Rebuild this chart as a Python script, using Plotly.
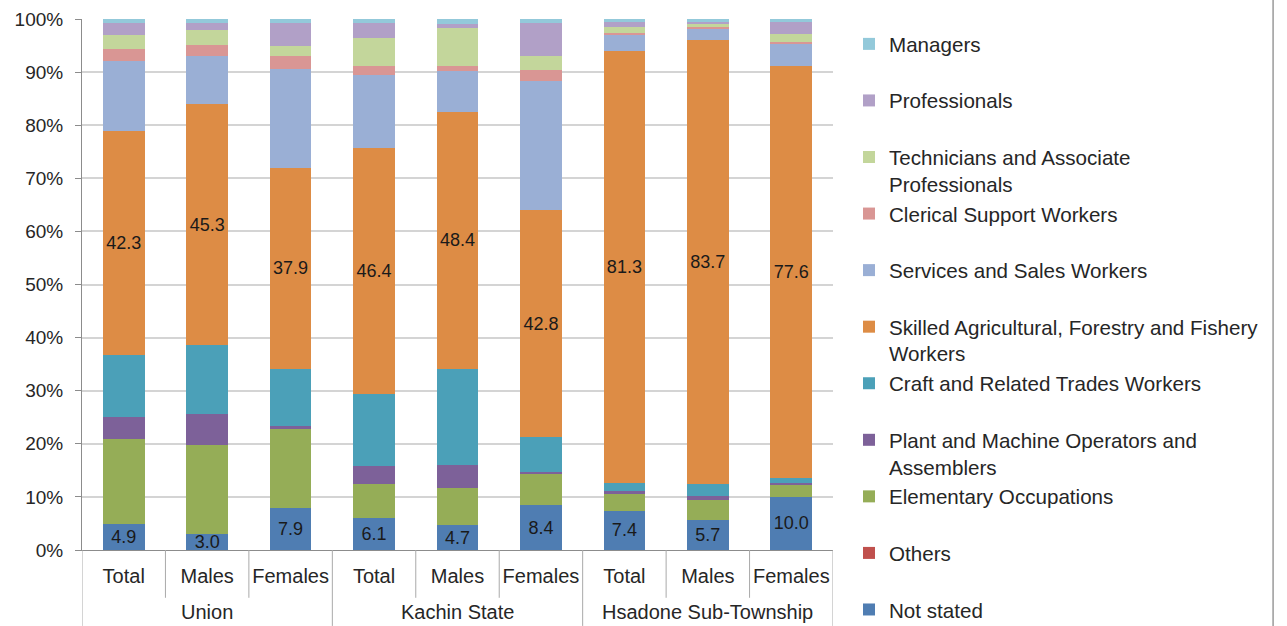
import plotly.graph_objects as go

# ---- data ----
group_names = ["Union", "Kachin State", "Hsadone Sub-Township"]
sub_labels = ["Total", "Males", "Females", "Total", "Males", "Females", "Total", "Males", "Females"]

not_stated = [4.9, 3.0, 7.9, 6.1, 4.7, 8.4, 7.4, 5.7, 10.0]
others = [0.0, 0.0, 0.0, 0.0, 0.0, 0.0, 0.0, 0.0, 0.0]
elementary = [16.0, 16.8, 14.8, 6.3, 7.0, 5.9, 3.2, 3.8, 2.4]
plant = [4.1, 5.9, 0.7, 3.4, 4.4, 0.4, 0.6, 0.7, 0.3]
craft = [11.7, 12.9, 10.7, 13.6, 18.0, 6.5, 1.5, 2.2, 0.8]
skilled = [42.3, 45.3, 37.9, 46.4, 48.4, 42.8, 81.3, 83.7, 77.6]
services = [13.0, 9.2, 18.5, 13.6, 7.7, 24.3, 3.1, 2.1, 4.2]
clerical = [2.4, 2.0, 2.5, 1.8, 1.0, 2.1, 0.3, 0.3, 0.3]
technicians = [2.6, 2.9, 1.9, 5.2, 7.1, 2.7, 1.1, 0.6, 1.6]
professionals = [2.3, 1.2, 4.4, 2.9, 0.7, 6.2, 0.9, 0.4, 2.2]
managers = [0.7, 0.8, 0.7, 0.7, 1.0, 0.7, 0.6, 0.5, 0.6]

series = [
    ("Not stated", not_stated, "#4F7DB2", True),
    ("Others", others, "#C0504D", False),
    ("Elementary Occupations", elementary, "#95AD57", False),
    ("Plant and Machine Operators and<br>Assemblers", plant, "#7D6199", False),
    ("Craft and Related Trades Workers", craft, "#4BA0B8", False),
    ("Skilled Agricultural, Forestry and Fishery<br>Workers", skilled, "#DD8C45", True),
    ("Services and Sales Workers", services, "#9AAFD5", False),
    ("Clerical Support Workers", clerical, "#D99694", False),
    ("Technicians and Associate<br>Professionals", technicians, "#C3D69B", False),
    ("Professionals", professionals, "#B1A0C7", False),
    ("Managers", managers, "#93C9DA", False),
]

FONT = "Liberation Sans, Arial, sans-serif"
xpos = list(range(len(sub_labels)))

fig = go.Figure()
for i, (name, vals, color, labelled) in enumerate(series):
    legend_name = name if ("<br>" in name or i == 0) else name + "<br>\u00a0"
    fig.add_trace(go.Bar(
        x=xpos, y=vals, name=legend_name,
        marker=dict(color=color, line=dict(width=0)),
        texttemplate="%{y:.1f}" if labelled else None,
        textposition="inside" if labelled else "none",
        insidetextanchor="middle", textangle=0,
        textfont=dict(family=FONT, size=18, color="#1a1a1a"),
        hoverinfo="name+y",
    ))

# boundary lines under x axis
n = len(sub_labels)
shapes = []
for b in range(n + 1):
    is_group = (b % 3 == 0)
    shapes.append(dict(type="line", xref="x", yref="paper",
                       x0=b - 0.5, x1=b - 0.5, y0=0,
                       y1=-0.143 if is_group else -0.09,
                       line=dict(color="#a9a9a9", width=1)))
# outer chart border on the right
shapes.append(dict(type="line", xref="paper", yref="paper",
                   x0=1.586, x1=1.586, y0=-0.2, y1=1.1,
                   line=dict(color="#9a9a9a", width=1.5)))

annotations = []
for g, gname in enumerate(group_names):
    annotations.append(dict(x=g * 3 + 1, y=-0.117, xref="x", yref="paper",
                            text=gname, showarrow=False, yanchor="middle",
                            font=dict(family=FONT, size=20, color="#262626")))

fig.update_layout(
    width=1287, height=626,
    margin=dict(l=82, r=454, t=19, b=76, autoexpand=False),
    paper_bgcolor="white", plot_bgcolor="white",
    barmode="stack", bargap=0.5,
    font=dict(family=FONT, color="#262626"),
    shapes=shapes, annotations=annotations,
    uniformtext=dict(minsize=18, mode="show"),
    legend=dict(x=1.0213, xanchor="left", y=0.9906, yanchor="top",
                traceorder="reversed", maxheight=700,
                valign="top", font=dict(family=FONT, size=20.6, color="#262626"),
                bgcolor="rgba(0,0,0,0)"),
    xaxis=dict(range=[-0.5, n - 0.5], tickmode="array", tickvals=xpos,
               ticktext=sub_labels, ticks="outside", ticklen=8,
               tickcolor="rgba(0,0,0,0)", showgrid=False, zeroline=False,
               showline=True, linecolor="#8c8c8c", linewidth=1,
               tickfont=dict(family=FONT, size=20, color="#262626")),
    yaxis=dict(range=[0, 100], tickmode="linear", tick0=0, dtick=10,
               ticksuffix="%", ticks="outside", ticklen=6, tickcolor="#8c8c8c",
               ticklabelstandoff=8,
               showgrid=True, gridcolor="#d4d4d4", gridwidth=1.5,
               zeroline=False, showline=True, linecolor="#8c8c8c", linewidth=1,
               tickfont=dict(family=FONT, size=19, color="#262626")),
)

fig.write_html("out.html", config={"displayModeBar": False},
               post_script="document.body.style.margin='0';")
